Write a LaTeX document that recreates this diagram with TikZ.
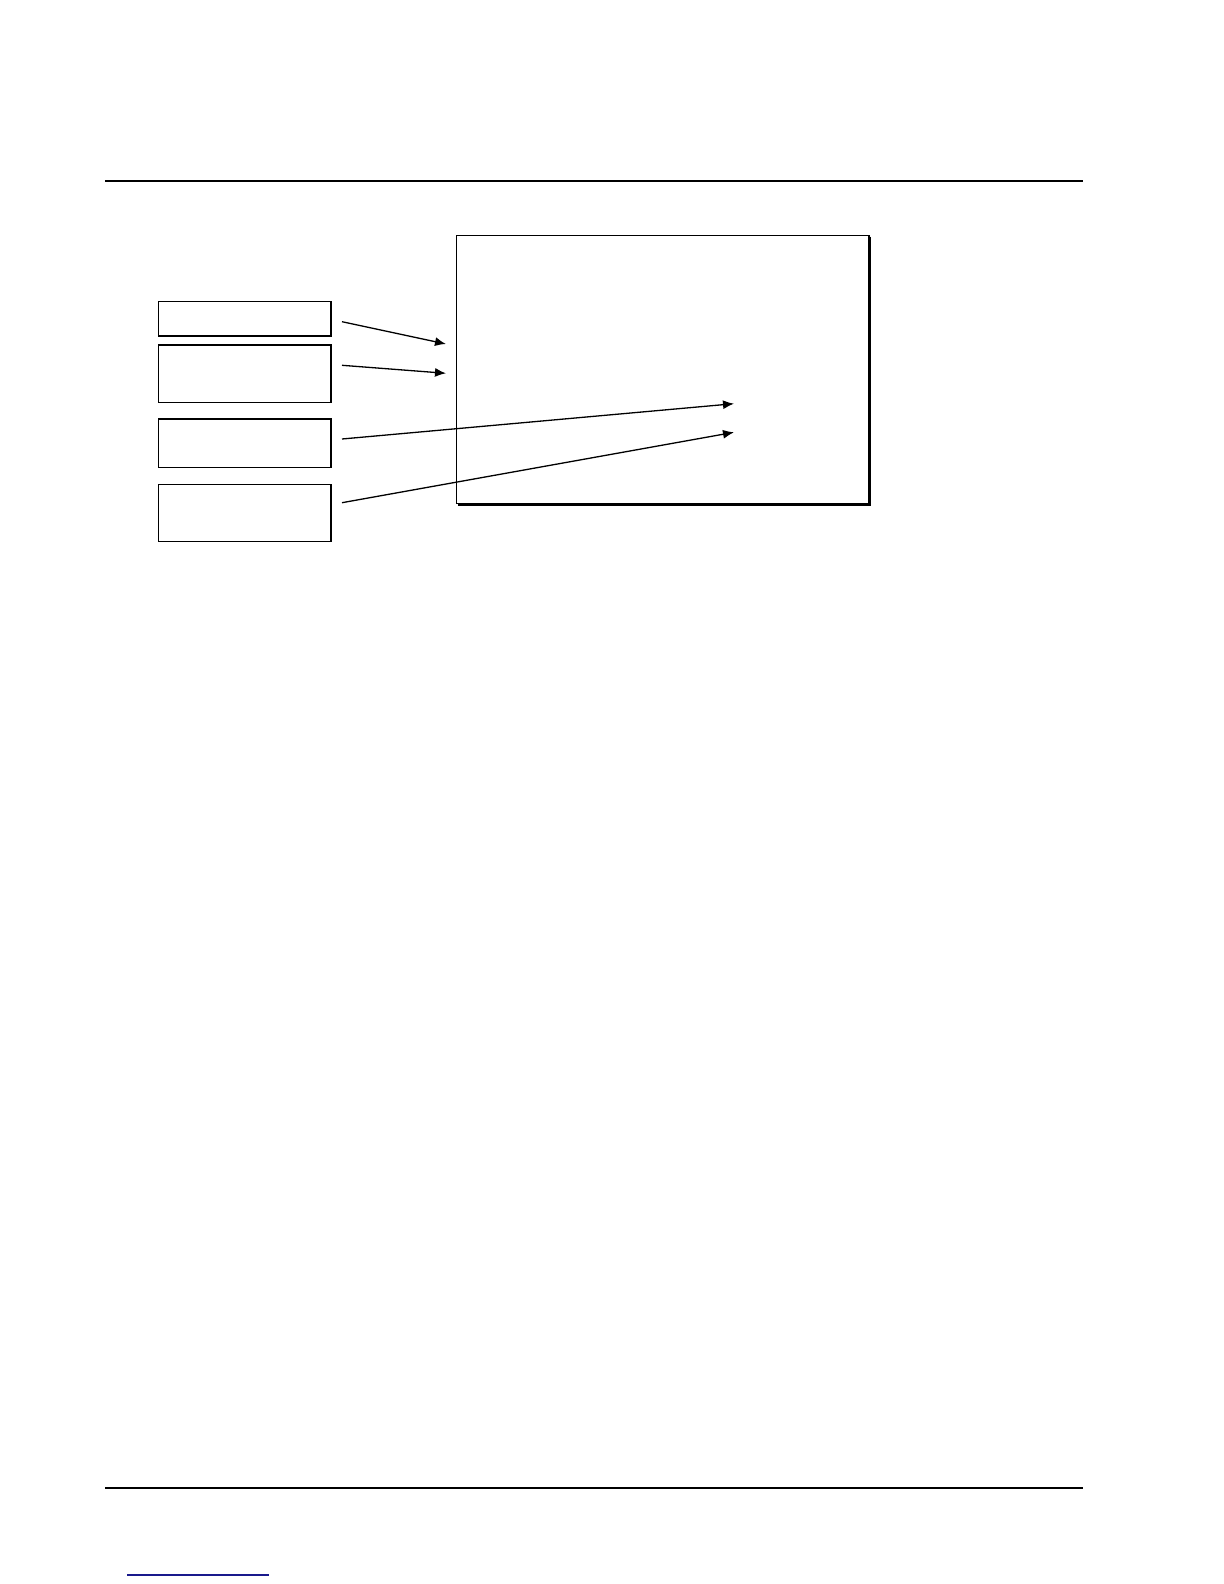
\documentclass[tikz,border=0pt]{standalone}
\usetikzlibrary{arrows.meta}
\newcommand{\pxscl}{0.5pt}
\newcommand{\inbox}{\node[draw, line width=0.65pt, minimum width=86.3pt, inner sep=0pt]}
\newcommand{\mainbox}{\node[draw, line width=0.6pt, minimum width=206.3pt, minimum height=134.2pt, inner sep=0pt]}
\newcommand{\rulew}{1.1pt}
\definecolor{linkblue}{RGB}{25,25,140}

\begin{document}
\begin{tikzpicture}[x=\pxscl, y=-\pxscl, >={Latex[length=5.5pt, width=4.5pt]}]
        \useasboundingbox (0,0) rectangle (1224,1584);

        \mainbox (main) at (662.6, 369.5) {};
        \inbox[minimum height=17.2pt] (in1) at (244.7, 318.8) {};
        \inbox[minimum height=28.8pt] (in2) at (244.7, 373.8) {};
        \inbox[minimum height=24.3pt] (in3) at (244.7, 443.3) {};
        \inbox[minimum height=28.7pt] (in4) at (244.7, 513) {};

        % shadow edge of the main box
        \draw[line width=1.2pt]
            ([xshift=0.3pt, yshift=-1pt]main.north east) -- ([xshift=0.3pt, yshift=-0.3pt]main.south east)
            -- ([xshift=1pt, yshift=-0.3pt]main.south west)
            ;

        \coordinate (s1) at (342, 321.7);
        \coordinate (s2) at (342, 365.3);
        \coordinate (s3) at (342, 439);
        \coordinate (s4) at (342, 502.7);
        \coordinate (t1) at (446, 344);
        \coordinate (t2) at (446, 373.3);
        \coordinate (t3) at (734, 403.7);
        \coordinate (t4) at (734, 432.3);

        \foreach \i in {1,...,4}
            \draw[->, line width=0.65pt] (s\i) -- (t\i);

        \coordinate (r1) at (105, 181);
        \coordinate (r2) at (1083, 181);
        \coordinate (r3) at (105, 1488);
        \coordinate (r4) at (1083, 1488);
        \coordinate (l1) at (127, 1575);
        \coordinate (l2) at (269, 1575);

        \draw[line width=\rulew]
            (r1) -- (r2)
            (r3) -- (r4)
            ;
        \draw[linkblue, line width=0.6pt] (l1) -- (l2);
    \end{tikzpicture}
\end{document}
